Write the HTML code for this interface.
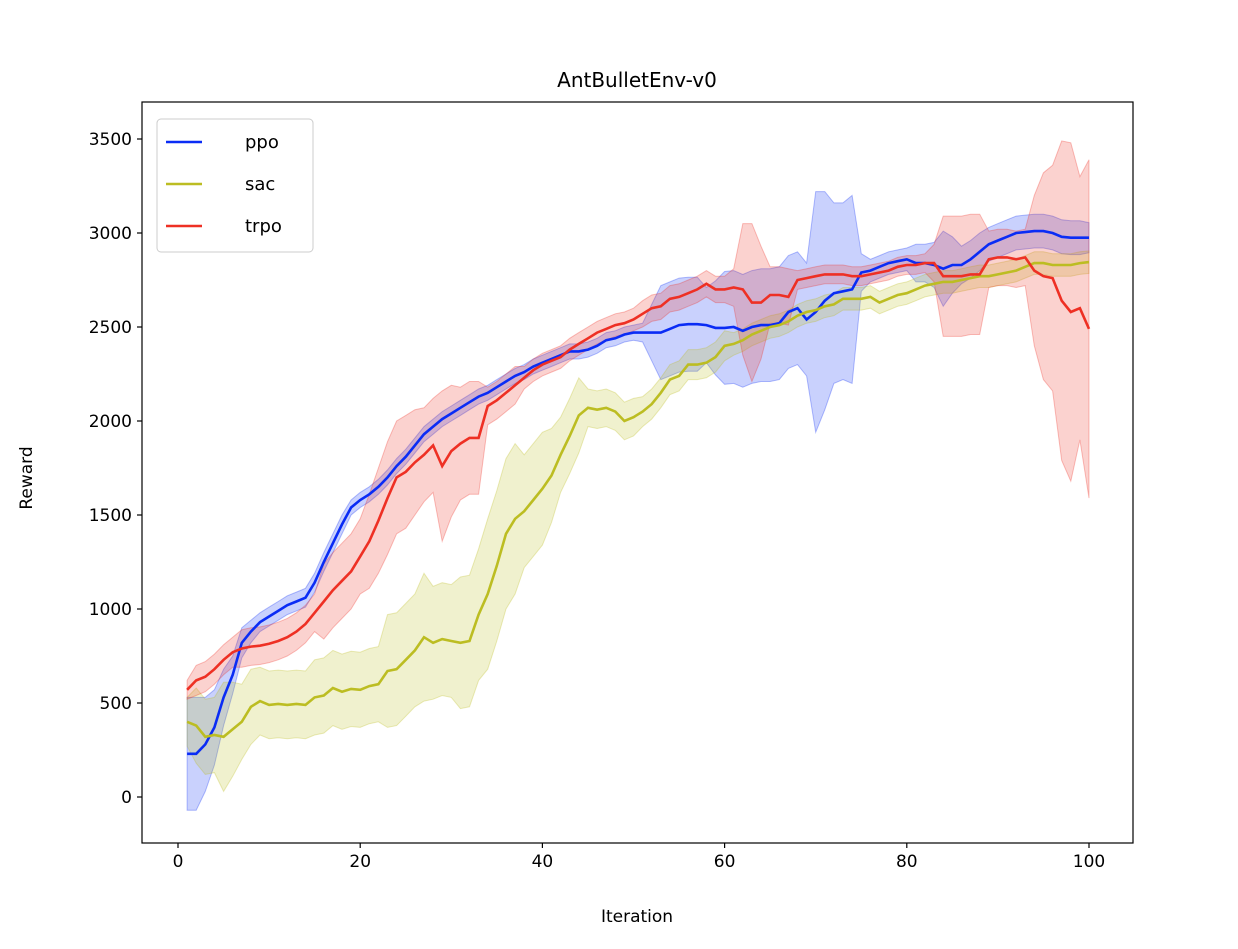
<!DOCTYPE html>
<html><head><meta charset="utf-8"><style>
body{margin:0;background:#fff}
svg text{font-family:"DejaVu Sans","Liberation Sans",sans-serif;fill:#000}
</style></head><body>
<svg id="c" width="1238" height="944" xmlns="http://www.w3.org/2000/svg">
<rect width="1238" height="944" fill="#fff"/>
<text x="637" y="87" font-size="20" text-anchor="middle">AntBulletEnv-v0</text>
<text x="637" y="922" font-size="17" text-anchor="middle">Iteration</text>
<text x="0" y="0" font-size="17" text-anchor="middle" transform="translate(32,478) rotate(-90)">Reward</text>
<g id="bands"></g><g id="lines"></g><g id="axes"></g>
</svg>
<script>
const ppo=[230,230,280,370,530,650,820,880,930,960,990,1020,1040,1060,1140,1250,1350,1450,1540,1580,1610,1650,1700,1760,1810,1870,1930,1970,2010,2040,2070,2100,2130,2150,2180,2210,2240,2260,2290,2310,2330,2350,2370,2370,2380,2400,2430,2440,2460,2470,2470,2470,2470,2490,2510,2515,2515,2510,2495,2495,2500,2480,2500,2510,2510,2520,2580,2600,2540,2580,2640,2680,2690,2700,2790,2800,2820,2840,2850,2860,2840,2840,2830,2810,2830,2830,2860,2900,2940,2960,2980,3000,3005,3010,3010,3000,2980,2975,2975,2975];
const ppoSd=[300,300,250,200,150,100,80,60,50,50,50,50,50,50,50,50,50,50,40,40,40,40,40,40,40,40,40,40,40,40,40,40,40,40,40,40,40,40,40,40,40,40,40,40,40,40,40,40,40,40,50,150,250,250,250,250,250,200,250,300,300,300,300,300,300,300,300,300,300,640,580,480,470,500,100,60,60,60,60,60,100,100,120,200,150,100,100,100,90,90,90,90,90,90,90,90,90,90,90,80];
const sac=[400,380,320,330,320,360,400,480,510,490,495,490,495,490,530,540,580,560,575,570,590,600,670,680,730,780,850,820,840,830,820,830,970,1080,1230,1400,1480,1520,1580,1640,1710,1820,1920,2030,2070,2060,2070,2050,2000,2020,2050,2090,2150,2220,2240,2300,2300,2310,2340,2400,2410,2430,2460,2480,2500,2510,2530,2560,2580,2590,2610,2620,2650,2650,2650,2660,2630,2650,2670,2680,2700,2720,2730,2740,2740,2750,2760,2770,2770,2780,2790,2800,2820,2840,2840,2830,2830,2830,2840,2845];
const sacSd=[130,200,200,200,290,250,200,200,180,180,180,180,180,180,200,200,200,200,200,200,200,200,300,300,300,300,340,300,300,300,350,350,350,400,400,400,400,300,300,300,250,200,200,200,100,100,100,100,100,100,80,80,80,80,80,80,80,80,80,80,60,60,60,60,60,60,60,60,60,60,60,60,60,60,60,60,60,60,60,60,60,60,60,60,60,60,60,60,60,60,60,60,60,60,60,60,60,60,60,60];
const trpo=[570,620,640,680,730,770,790,800,805,815,830,850,880,920,980,1040,1100,1150,1200,1280,1360,1470,1590,1700,1730,1780,1820,1870,1760,1840,1880,1910,1910,2080,2110,2150,2190,2230,2270,2300,2320,2340,2380,2410,2440,2470,2490,2510,2520,2540,2570,2600,2610,2650,2660,2680,2700,2730,2700,2700,2710,2700,2630,2630,2670,2670,2660,2750,2760,2770,2780,2780,2780,2770,2770,2780,2790,2800,2820,2830,2830,2840,2840,2770,2770,2770,2780,2780,2860,2870,2870,2860,2870,2800,2770,2760,2640,2580,2600,2490];
const trpoSd=[50,80,80,80,80,80,100,100,100,100,100,100,100,100,100,200,200,200,200,200,250,280,300,300,300,280,250,250,400,350,300,300,300,100,100,100,100,60,60,60,60,60,60,60,60,60,60,60,60,60,70,70,70,70,70,70,70,70,70,70,100,350,420,300,150,150,150,50,50,50,50,50,50,50,50,50,50,50,50,50,50,50,100,320,320,320,320,320,150,150,150,150,150,400,550,600,850,900,700,900];
const xTicks=[0,20,40,60,80,100];
const yTicks=[0,500,1000,1500,2000,2500,3000,3500];
const X=v=>178+(v/100)*911, Y=v=>797-(v/3500)*658;
const NS='http://www.w3.org/2000/svg';
function mk(t,a,p){const e=document.createElementNS(NS,t);for(const k in a)e.setAttribute(k,a[k]);p.appendChild(e);return e;}
const series=[["ppo",ppo,ppoSd,"#0a2cf5"],["sac",sac,sacSd,"#bcbd22"],["trpo",trpo,trpoSd,"#ee3024"]];
const bands=document.getElementById('bands'),lines=document.getElementById('lines'),axes=document.getElementById('axes');
series.forEach(([n,m,s,c])=>{
  let up=m.map((v,i)=>X(i+1).toFixed(1)+','+Y(v+s[i]).toFixed(1));
  let lo=m.map((v,i)=>X(i+1).toFixed(1)+','+Y(v-s[i]).toFixed(1)).reverse();
  const b=mk('polygon',{points:up.concat(lo).join(' '),fill:c,'fill-opacity':0.22,stroke:c,'stroke-opacity':0.3,'stroke-width':1},bands);
  
  
  const l=mk('polyline',{points:m.map((v,i)=>X(i+1).toFixed(1)+','+Y(v).toFixed(1)).join(' '),fill:'none',stroke:c,'stroke-width':2.6},lines);
  
  
});
const f=mk('rect',{x:142,y:102,width:991,height:741,fill:'none',stroke:'#000','stroke-width':1.2},axes);


xTicks.forEach(t=>{
  mk('line',{x1:X(t),x2:X(t),y1:843,y2:848,stroke:'#000','stroke-width':1.2},axes);
  const tx=mk('text',{x:X(t),y:867,'font-size':17,'text-anchor':'middle'},axes);tx.textContent=t;
  
  
});
yTicks.forEach(t=>{
  mk('line',{x1:137,x2:142,y1:Y(t),y2:Y(t),stroke:'#000','stroke-width':1.2},axes);
  const tx=mk('text',{x:132,y:Y(t)+6,'font-size':17,'text-anchor':'end'},axes);tx.textContent=t;
  
  
});
const lg=mk('g',{},axes);


mk('rect',{x:157,y:119,width:156,height:133,rx:4,fill:'#fff','fill-opacity':0.8,stroke:'#ccc'},lg);
series.forEach(([n,,,c],i)=>{
  const y=142+i*42;
  mk('line',{x1:166,x2:202,y1:y,y2:y,stroke:c,'stroke-width':2.6},lg);
  const t=mk('text',{x:245,y:y+6,'font-size':18},lg);t.textContent=n;
  
  
});
</script>
</body></html>
